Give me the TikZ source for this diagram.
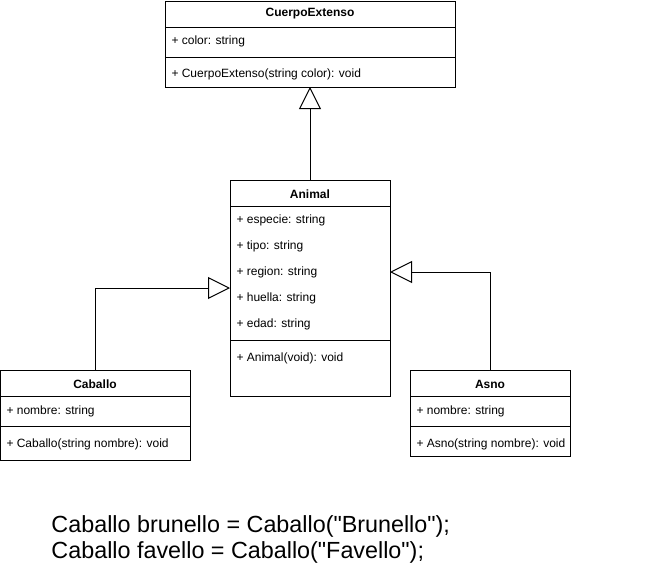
\documentclass[tikz,border=0pt]{standalone}
\usepackage{fontspec}
\setmainfont{Liberation Sans}
\usetikzlibrary{arrows.meta, positioning, calc}

\begin{document}
\begin{tikzpicture}[x=0.75pt, y=-0.75pt,
            line width=0.75pt,
            every node/.style={font=\fontsize{9}{11}\selectfont},
            classbox/.style={draw, anchor=north west, inner sep=0pt, outer sep=0pt},
            classname/.style={font=\fontsize{9}{11}\selectfont\bfseries},
            member/.style={anchor=west, inner sep=0pt},
            inherit/.style={-{Triangle[open, length=16.5pt, width=16.5pt]}, fill=white}]
            \useasboundingbox (0,0) rectangle (662,568);

            % CuerpoExtenso
            \node[classbox, minimum width=217.5pt, minimum height=64.5pt] (cuerpo) at (165,1) {};
            \node[classname] (cuerpo-t) at (310,14) {CuerpoExtenso};
            \draw (cuerpo.north west) ++(0,26) -- ++(290,0);
            \node[member] (ce-color) at (171,41) {+ color: string};
            \draw (cuerpo.north west) ++(0,56) -- ++(290,0);
            \node[member] (ce-ctor) at (171,74) {+ CuerpoExtenso(string color): void};

            % Animal
            \node[classbox, minimum width=120pt, minimum height=162pt] (animal) at (230,180) {};
            \node[classname] (animal-t) at (310,194) {Animal};
            \draw (animal.north west) ++(0,26) -- ++(160,0);
            \node[member] (an-especie) at (236,220) {+ especie: string};
            \node[member] (an-tipo) at (236,246) {+ tipo: string};
            \node[member] (an-region) at (236,272) {+ region: string};
            \node[member] (an-huella) at (236,298) {+ huella: string};
            \node[member] (an-edad) at (236,324) {+ edad: string};
            \draw (animal.north west) ++(0,160) -- ++(160,0);
            \node[member] (an-ctor) at (236,358) {+ Animal(void): void};

            % Caballo
            \node[classbox, minimum width=142.5pt, minimum height=67.5pt] (caballo) at (0,370) {};
            \node[classname] (caballo-t) at (95,384) {Caballo};
            \draw (caballo.north west) ++(0,26) -- ++(190,0);
            \node[member] (ca-nombre) at (6,411) {+ nombre: string};
            \draw (caballo.north west) ++(0,56) -- ++(190,0);
            \node[member] (ca-ctor) at (6,444) {+ Caballo(string nombre): void};

            % Asno
            \node[classbox, minimum width=120pt, minimum height=64.5pt] (asno) at (410,370) {};
            \node[classname] (asno-t) at (490,384) {Asno};
            \draw (asno.north west) ++(0,26) -- ++(160,0);
            \node[member] (as-nombre) at (416,411) {+ nombre: string};
            \draw (asno.north west) ++(0,56) -- ++(160,0);
            \node[member] (as-ctor) at (416,444) {+ Asno(string nombre): void};

            % herencia
            \draw[inherit] (animal.north) -- (cuerpo.south);
            \draw[inherit] (caballo.north) |- (animal.west);
            \draw[inherit] (asno.north) |- (animal.east |- an-region);

            % instancias
            \node[anchor=west, inner sep=0pt, font=\fontsize{17.5}{21}\selectfont] (brunello) at (51,526) {Caballo brunello = Caballo(\textquotedbl Brunello\textquotedbl);};
            \node[anchor=west, inner sep=0pt, font=\fontsize{17.5}{21}\selectfont] (favello) at (51,552) {Caballo favello = Caballo(\textquotedbl Favello\textquotedbl);};
        \end{tikzpicture}
\end{document}
